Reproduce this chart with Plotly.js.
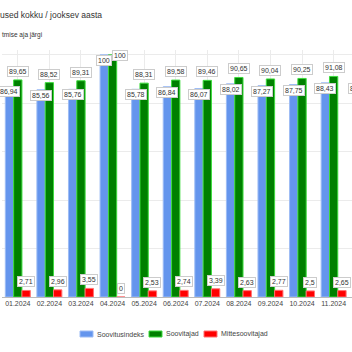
<!DOCTYPE html>
<html><head><meta charset="utf-8">
<script src="https://cdn.plot.ly/plotly-3.0.1.min.js"></script>
<style>
html,body{margin:0;padding:0;overflow:hidden;width:352px;height:352px;background:#fff}
#chart{position:absolute;left:-47px;top:0;width:438px;height:352px}
</style></head>
<body><div id="chart"></div>
<script>
const categories = ['01.2024','02.2024','03.2024','04.2024','05.2024','06.2024','07.2024','08.2024','09.2024','10.2024','11.2024','12.2024'];
const soovitusindeks = [86.94, 85.56, 85.76, 100, 85.78, 86.84, 86.07, 88.02, 87.27, 87.75, 88.43, 88.3];
const soovitajad = [89.65, 88.52, 89.31, 100, 88.31, 89.58, 89.46, 90.65, 90.04, 90.25, 91.08, 90.9];
const mittesoovitajad = [2.71, 2.96, 3.55, 0, 2.53, 2.74, 3.39, 2.63, 2.77, 2.5, 2.65, 2.6];
const seriesNames = ['Soovitusindeks', 'Soovitajad', 'Mittesoovitajad'];
const titleText = 'used kokku / jooksev aasta';
const subtitleText = 'tmise aja järgi';

const OFF = 47;
const W = 438, H = 352, ML = 49, MR = 10, MT = 50, MB = 55;
const PW = W - ML - MR, PH = H - MT - MB;
const YMAX = 102;
const bargap = 0.21;
const catW = PW / categories.length;
const barW = catW * (1 - bargap) / 3;
const pxPerUnit = PH / YMAX;
const LABEL_H = 12;

const fmt = v => String(v).replace('.', ',');
const font = 'Liberation Sans, Arial, sans-serif';
// visible-pixel -> paper coordinates (for legend decoration)
const px = x => (x + OFF - ML) / PW;
const py = y => (H - MB - y) / PH;

const series = [soovitusindeks, soovitajad, mittesoovitajad];
const fills = ['#6495ED', '#008000', '#FF0000'];
const edges = ['#9dbcf5', '#3ddc3d', '#ff7070'];

const traces = series.map((vals, k) => ({
  type: 'bar', name: seriesNames[k], x: categories.map((c, i) => i), y: vals,
  text: categories, hoverinfo: 'text+y', textposition: 'none',
  marker: {color: fills[k], line: {color: edges[k], width: 1}}
}));

const annotations = [];
const shapes = [];
const labelStyle = {font: {family: font, size: 7, color: '#333'}, bgcolor: '#fff', bordercolor: '#cccccc', borderwidth: 1, borderpad: 1, showarrow: false};
series.forEach((vals, k) => {
  vals.forEach((v, i) => {
    const a = Object.assign({}, labelStyle, {
      x: i, y: v, xref: 'x', yref: 'y',
      text: fmt(v),
      xshift: (k - 1) * barW,
      yanchor: k === 0 ? 'top' : 'bottom',
      yshift: k === 0 ? 0 : 3
    });
    // keep outside labels inside the plot area: clamp to top and nudge sideways
    if (k > 0 && v + (3 + LABEL_H) / pxPerUnit > YMAX) {
      a.y = YMAX; a.yanchor = 'top'; a.yshift = 0; a.xshift += barW * 0.85;
    }
    annotations.push(a);
  });
});
annotations.push({
  text: subtitleText, xref: 'paper', yref: 'paper', x: 0, y: 1, xanchor: 'left', yanchor: 'middle',
  xshift: -2, yshift: 15, showarrow: false, font: {family: font, size: 6.5, color: '#333'}
});

// legend (drawn as decoration to match the compact original legend)
const legendX = [80, 149, 204];
const legendY = 334;
seriesNames.forEach((n, k) => {
  shapes.push({type: 'rect', xref: 'paper', yref: 'paper', x0: px(legendX[k]), x1: px(legendX[k] + 13),
    y0: py(legendY + 3), y1: py(legendY - 3), fillcolor: fills[k], line: {color: edges[k], width: 1}});
  annotations.push({text: n, xref: 'paper', yref: 'paper', x: px(legendX[k] + 15), y: py(legendY),
    xanchor: 'left', yanchor: 'middle', showarrow: false, font: {family: font, size: 7, color: '#444'}});
});

const layout = {
  width: W, height: H,
  margin: {l: ML, r: MR, t: MT, b: MB},
  paper_bgcolor: '#fff', plot_bgcolor: '#fff',
  font: {family: font, color: '#444'},
  title: {text: titleText, xref: 'container', x: OFF / W, xanchor: 'left', yref: 'container', y: 1 - 15 / H, yanchor: 'middle',
    font: {family: font, size: 8.5, color: '#333'}},
  barmode: 'group', bargap: bargap, bargroupgap: 0,
  xaxis: {tickmode: 'array', tickvals: categories.map((c, i) => i), ticktext: categories,
    showgrid: true, gridcolor: '#ebebeb', gridwidth: 1, showline: true, linecolor: '#bbbbbb',
    ticks: '', tickfont: {family: font, size: 7, color: '#444'}, range: [-0.5, categories.length - 0.5], fixedrange: true},
  yaxis: {range: [0, YMAX], dtick: 20, showgrid: true, gridcolor: '#ebebeb', zeroline: false, showline: false,
    showticklabels: false, fixedrange: true},
  showlegend: false,
  shapes: shapes,
  annotations: annotations
};

Plotly.newPlot('chart', traces, layout, {displayModeBar: false, staticPlot: true});
</script>
</body></html>
